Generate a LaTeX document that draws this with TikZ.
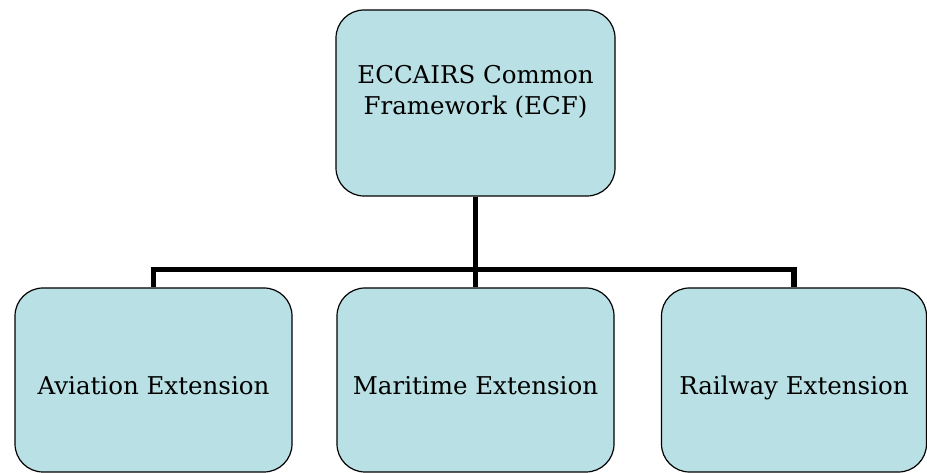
\documentclass[tikz,border=0pt]{standalone}
\usepackage{fontspec}
\setmainfont{DejaVu Serif}
\usetikzlibrary{trees}
\definecolor{boxblue}{RGB}{185,224,228}

\begin{document}
\begin{tikzpicture}[
    x=1pt, y=1pt,
    level distance=277pt,
    sibling distance=322pt,
    level 1/.style={text height=30pt, text depth=0pt},
    edge from parent/.style={draw, line width=5.5pt},
    edge from parent path={(\tikzparentnode.south) -- ++(0,-73pt) -| (\tikzchildnode.north)},
    every node/.style={draw, line width=1.2pt, rounded corners=28pt, fill=boxblue,
                        minimum width=277pt, minimum height=184pt, inner sep=0pt,
                        font=\fontsize{24.5}{31}\selectfont, align=center}
  ]
  \useasboundingbox (0,0) rectangle (927,473);
  \node (ecf) at (475.5,370) [minimum width=279pt, minimum height=186pt, text depth=27pt]
      {ECCAIRS Common\\Framework (ECF)}
    child { node (aviation) {Aviation Extension} }
    child { node (maritime) {Maritime Extension} }
    child { node[minimum width=265pt, xshift=-3.5pt] (railway) {Railway Extension} };
\end{tikzpicture}
\end{document}
